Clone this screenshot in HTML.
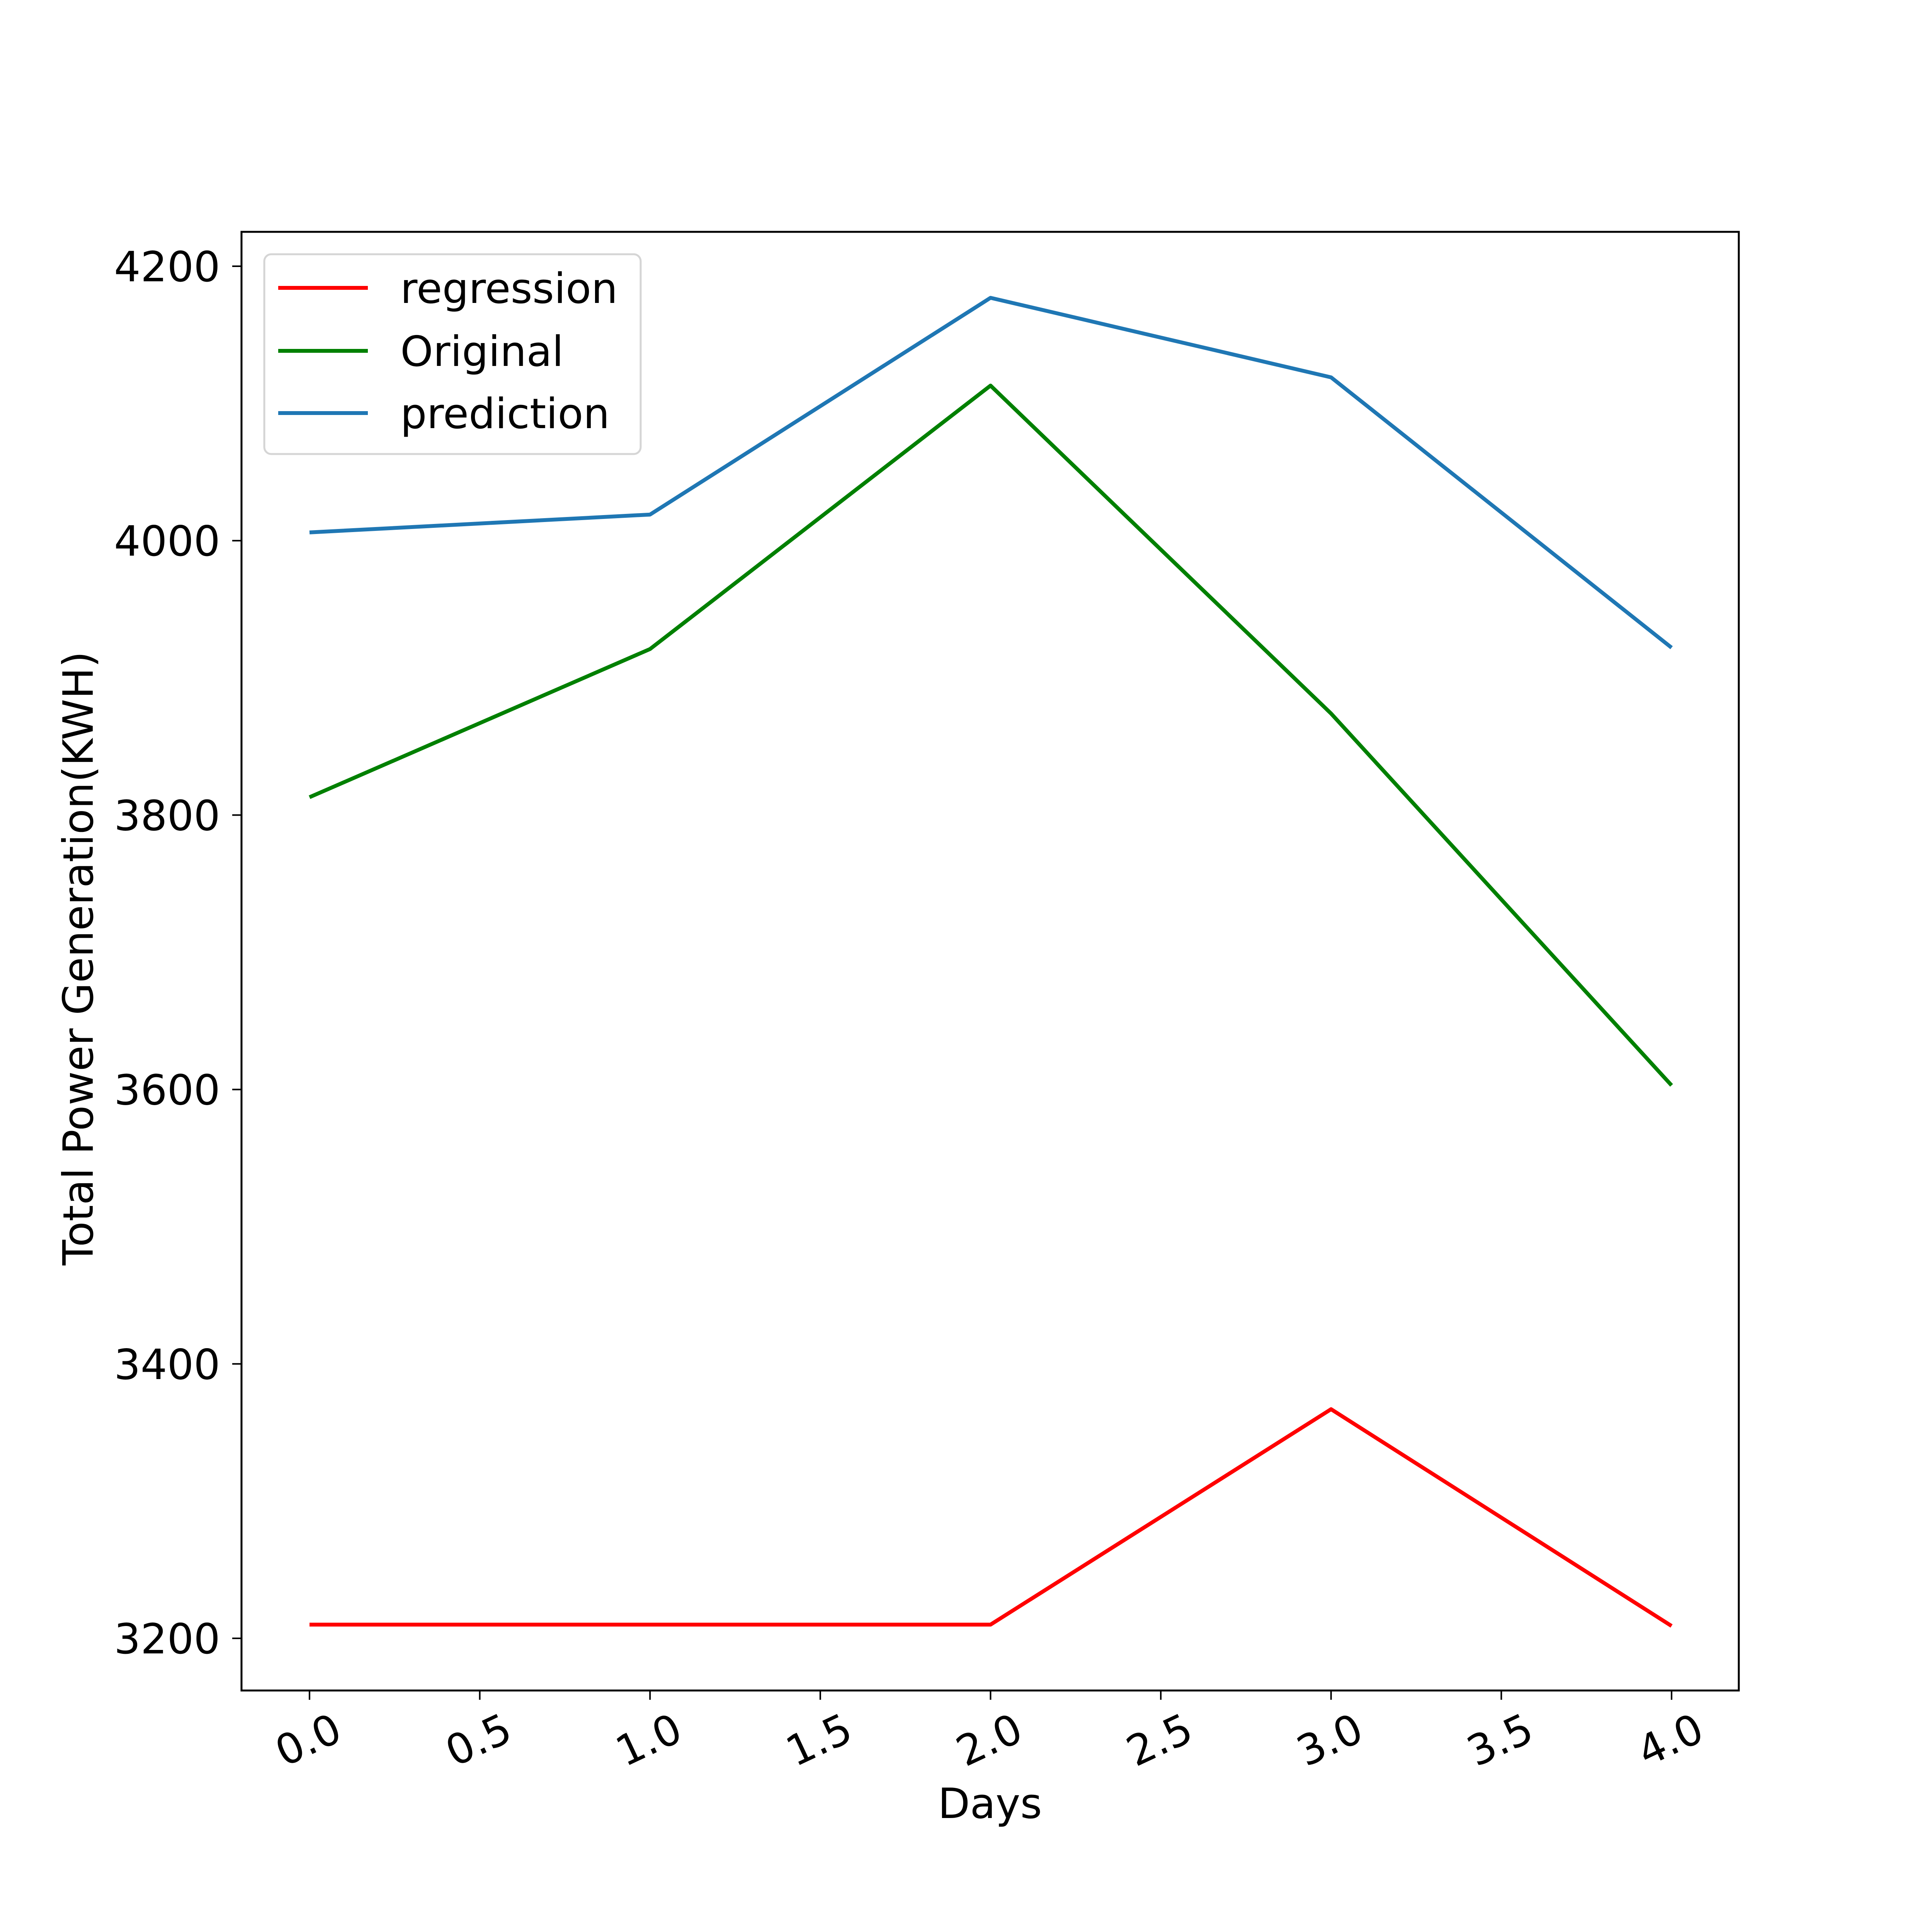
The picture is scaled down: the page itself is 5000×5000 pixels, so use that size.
<!DOCTYPE html>
<html><head><meta charset="utf-8"><style>
html,body{margin:0;padding:0;background:#fff}
svg{display:block}
text{font-family:"DejaVu Sans","Liberation Sans",sans-serif;fill:#000}
</style></head><body>
<svg id="chart" width="5000" height="5000" viewBox="0 0 5000 5000" xmlns="http://www.w3.org/2000/svg">
<rect width="5000" height="5000" fill="#fff"/>
<g id="plot"></g>
</svg>
<script>
const days = [0, 1, 2, 3, 4];
const regression = [3210, 3210, 3210, 3367, 3209];
const original = [3813, 3921, 4113, 3874, 3603];
const prediction = [4006, 4019, 4177, 4119, 3922];
const xTicks = [0, 0.5, 1, 1.5, 2, 2.5, 3, 3.5, 4];
const xTickLabels = ["0.0","0.5","1.0","1.5","2.0","2.5","3.0","3.5","4.0"];
const yTicks = [3200, 3400, 3600, 3800, 4000, 4200];
const seriesNames = ["regression", "Original", "prediction"];

const NS = "http://www.w3.org/2000/svg";
const L = 625, R = 4500, T = 600, B = 4375;
function xs(v){ return 801 + v * 881.25; }
function ys(v){ return 4240 - (v - 3200) * 3.551; }
const g = document.getElementById('plot');
function mk(tag, attrs, parent){
  const e = document.createElementNS(NS, tag);
  for (const k in attrs) e.setAttribute(k, attrs[k]);
  (parent || g).appendChild(e);
  return e;
}
const colors = ["#ff0000", "#008000", "#1f77b4"];
const allSeries = [regression, original, prediction];
allSeries.forEach((s, i) => {
  const pts = s.map((v, j) => xs(days[j]).toFixed(1) + "," + ys(v).toFixed(1)).join(" ");
  const pl = mk('polyline', {points: pts, fill: 'none', stroke: colors[i], 'stroke-width': 10, 'stroke-linejoin': 'round'});
  
  
});
const frame = mk('rect', {x: L, y: T, width: R - L, height: B - T, fill: 'none', stroke: '#000', 'stroke-width': 5});


xTicks.forEach((v, i) => {
  const x = xs(v);
  const t = mk('line', {x1: x, y1: B, x2: x, y2: B + 24, stroke: '#000', 'stroke-width': 4});
  
  
  const tx = mk('text', {x: 0, y: 0, 'font-size': 108, 'text-anchor': 'middle', transform: `translate(${x},${B + 135}) rotate(-25)`, 'dominant-baseline': 'middle'});
  tx.textContent = xTickLabels[i];
  
  
});
yTicks.forEach(v => {
  const y = ys(v);
  const t = mk('line', {x1: L - 24, y1: y, x2: L, y2: y, stroke: '#000', 'stroke-width': 4});
  
  
  const tx = mk('text', {x: 570, y: y + 39, 'font-size': 108, 'text-anchor': 'end'});
  tx.textContent = String(v);
  
  
});
const xt = mk('text', {x: 2562, y: 4705, 'font-size': 108, 'text-anchor': 'middle'});
xt.textContent = 'Days';


const yt = mk('text', {x: 0, y: 0, 'font-size': 108, 'text-anchor': 'middle', transform: 'translate(240,2480) rotate(-90)'});
yt.textContent = 'Total Power Generation(KWH)';


const lg = mk('g', {});


const box = mk('rect', {x: 684, y: 658, width: 974, height: 517, rx: 18, fill: '#fff', 'fill-opacity': 0.8, stroke: '#d5d5d5', 'stroke-width': 5}, lg);


const rowY = [745, 908, 1069];
seriesNames.forEach((n, i) => {
  const ln = mk('line', {x1: 720, y1: rowY[i], x2: 952, y2: rowY[i], stroke: colors[i], 'stroke-width': 10}, lg);
  
  
  const tx = mk('text', {x: 1036, y: rowY[i] + 39, 'font-size': 108}, lg);
  tx.textContent = n;
  
  
});
</script>
</body></html>
